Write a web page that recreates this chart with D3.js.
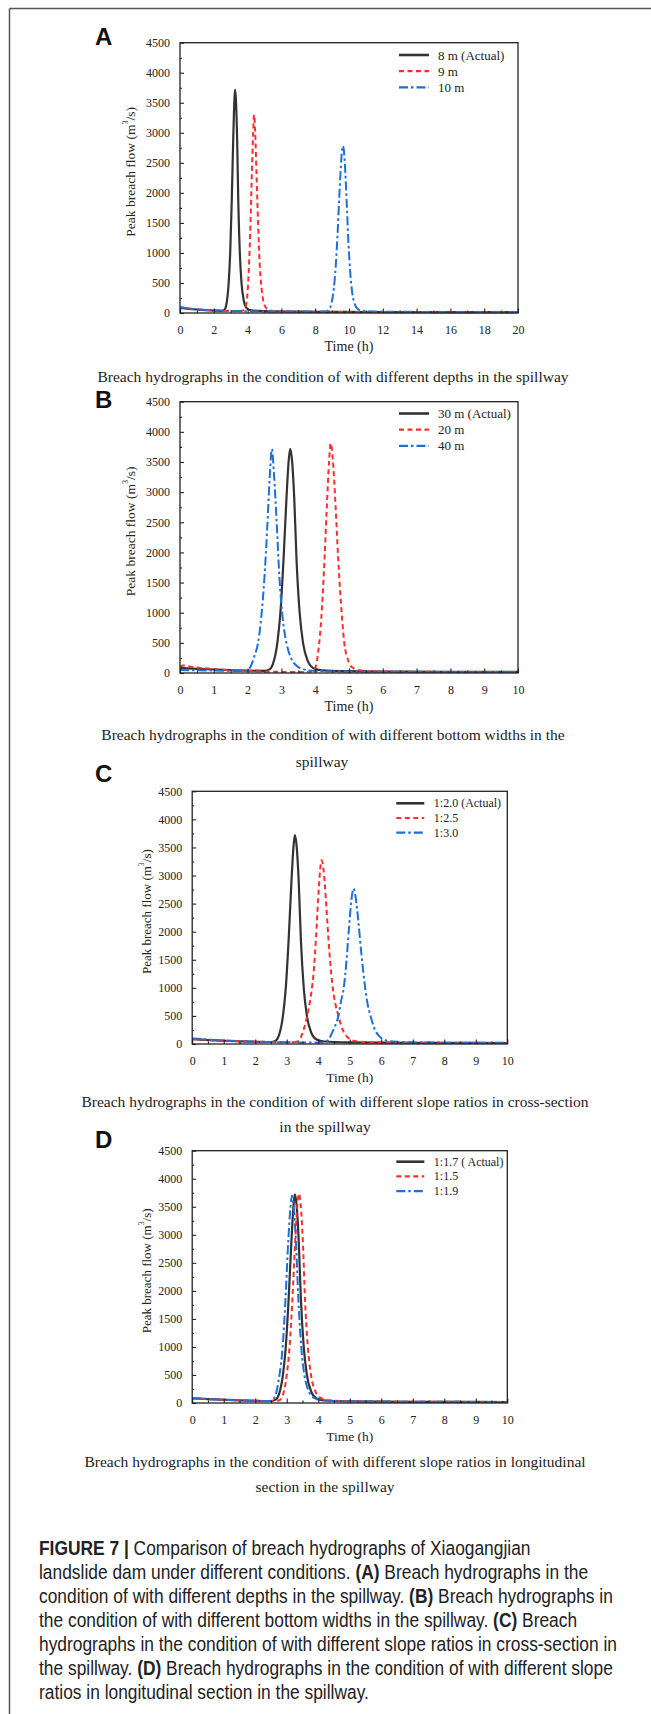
<!DOCTYPE html>
<html><head><meta charset="utf-8">
<script src="https://cdn.jsdelivr.net/npm/d3@7"></script>
<style>html,body{margin:0;padding:0;background:#fff;} svg{display:block;}</style>
</head><body>
<svg id="fig" width="651" height="1714"></svg>
<script>
// ---------- data ----------
const yTicks = [0,500,1000,1500,2000,2500,3000,3500,4000,4500];
const xTicksA = [0,2,4,6,8,10,12,14,16,18,20];
const xTicks10 = [0,1,2,3,4,5,6,7,8,9,10];

const legendA = ["8 m (Actual)", "9 m", "10 m"];
const legendB = ["30 m (Actual)", "20 m", "40 m"];
const legendC = ["1:2.0 (Actual)", "1:2.5", "1:3.0"];
const legendD = ["1:1.7 ( Actual)", "1:1.5", "1:1.9"];

const captionA = ["Breach hydrographs in the condition of with different depths in the spillway"];
const captionB = ["Breach hydrographs in the condition of with different bottom widths in the", "spillway"];
const captionC = ["Breach hydrographs in the condition of with different slope ratios in cross-section", "in the spillway"];
const captionD = ["Breach hydrographs in the condition of with different slope ratios in longitudinal", "section in the spillway"];

// actual condition hydrograph [time h, flow m3/s]
const actual = [[0,85],[0.5,70],[1,58],[1.5,48],[2,40],[2.5,36],[2.65,60],[2.75,150],[2.88,500],[2.97,1000],[3.06,1850],[3.15,2900],[3.22,3550],[3.26,3720],[3.31,3550],[3.38,2900],[3.45,1850],[3.54,1000],[3.64,500],[3.78,200],[3.95,80],[4.2,45],[5,30],[6,25],[8,20],[10,18],[12,16],[15,15],[20,14]];
// panel A
const depth9 = [[0,95],[0.5,75],[1,60],[1.5,50],[2,42],[3,32],[3.6,30],[3.8,60],[3.95,200],[4.05,600],[4.15,1300],[4.25,2300],[4.33,3000],[4.38,3300],[4.45,3000],[4.53,2300],[4.62,1500],[4.72,800],[4.85,350],[5.0,130],[5.2,60],[5.5,35],[6.5,25],[8,20],[10,18],[14,15],[20,13]];
const depth10 = [[0,95],[0.5,75],[1,60],[2,45],[3,36],[4,30],[5,27],[6,25],[7,24],[8,23],[8.6,25],[8.8,50],[8.95,150],[9.1,400],[9.22,800],[9.32,1300],[9.42,1900],[9.52,2450],[9.6,2740],[9.64,2780],[9.7,2700],[9.78,2350],[9.87,1800],[9.97,1150],[10.08,650],[10.2,320],[10.35,140],[10.55,60],[10.8,35],[11.5,25],[13,20],[16,17],[20,15]];
// panel B
const width20 = [[0,110],[0.1,125],[0.3,105],[0.6,85],[1,65],[1.5,48],[2,35],[2.5,25],[3,18],[3.5,15],[3.9,25],[4.0,80],[4.1,400],[4.18,900],[4.26,1700],[4.34,2700],[4.41,3500],[4.46,3810],[4.52,3550],[4.6,2800],[4.68,1900],[4.77,1100],[4.86,500],[4.97,220],[5.1,90],[5.3,45],[5.6,30],[6,25],[7,20],[8,18],[10,15]];
const width40 = [[0,50],[0.5,45],[1,40],[1.5,35],[1.9,32],[2.0,50],[2.1,120],[2.2,280],[2.31,500],[2.4,900],[2.5,1600],[2.58,2400],[2.65,3200],[2.72,3717],[2.78,3300],[2.86,2500],[2.94,1600],[3.03,950],[3.15,500],[3.3,230],[3.45,120],[3.65,60],[4,35],[5,25],[6,20],[8,17],[10,15]];
// panel C
const slope25 = [[0,95],[0.5,75],[1,60],[1.5,50],[2,42],[2.5,36],[3,30],[3.32,40],[3.45,120],[3.55,280],[3.65,500],[3.75,800],[3.85,1250],[3.93,1900],[4.0,2600],[4.06,3100],[4.11,3273],[4.17,3100],[4.24,2600],[4.32,1900],[4.44,1100],[4.55,700],[4.64,500],[4.78,250],[4.95,110],[5.15,55],[5.5,35],[6,28],[7,22],[8,20],[10,17]];
const slope30 = [[0,100],[0.5,80],[1,62],[1.5,50],[2,42],[2.5,36],[3,32],[3.5,28],[4,26],[4.2,30],[4.35,100],[4.5,280],[4.64,500],[4.72,750],[4.81,1000],[4.9,1500],[4.98,2100],[5.05,2550],[5.12,2769],[5.19,2600],[5.27,2200],[5.37,1600],[5.49,1000],[5.57,700],[5.66,500],[5.78,280],[5.95,130],[6.15,65],[6.5,38],[7,30],[8,24],[10,20]];
// panel D
const long15 = [[0,85],[0.5,70],[1,58],[1.5,48],[2,40],[2.5,35],[2.75,45],[2.87,130],[3.0,500],[3.09,1000],[3.18,1850],[3.27,2900],[3.34,3550],[3.39,3735],[3.44,3550],[3.51,2900],[3.58,1850],[3.67,1000],[3.77,500],[3.9,220],[4.05,100],[4.3,50],[5,32],[6,26],[8,21],[10,18]];
const long19 = [[0,90],[0.5,72],[1,58],[1.5,48],[2,40],[2.45,35],[2.55,60],[2.65,150],[2.77,500],[2.87,1000],[2.96,1850],[3.05,2900],[3.12,3500],[3.17,3700],[3.22,3500],[3.29,2900],[3.37,1850],[3.46,1000],[3.56,500],[3.7,210],[3.87,90],[4.1,50],[5,32],[6,26],[8,21],[10,18]];

const figCaption = [
  [["FIGURE 7 | ",true],["Comparison of breach hydrographs of Xiaogangjian",false]],
  [["landslide dam under different conditions. ",false],["(A)",true],[" Breach hydrographs in the",false]],
  [["condition of with different depths in the spillway. ",false],["(B)",true],[" Breach hydrographs in",false]],
  [["the condition of with different bottom widths in the spillway. ",false],["(C)",true],[" Breach",false]],
  [["hydrographs in the condition of with different slope ratios in cross-section in",false]],
  [["the spillway. ",false],["(D)",true],[" Breach hydrographs in the condition of with different slope",false]],
  [["ratios in longitudinal section in the spillway.",false]]
];

// ---------- styles ----------
const serif = "'Liberation Serif','Times New Roman',serif";
const sans = "'Liberation Sans',Arial,Helvetica,sans-serif";
const styles = [
  {color:"#333333", dash:null, width:2.2},
  {color:"#ff2d2d", dash:"5,3.5", width:2},
  {color:"#1f6fd8", dash:"9,3,2.5,3", width:2}
];

const svg = d3.select("#fig");
svg.append("rect").attr("width",651).attr("height",1714).attr("fill","#fff");
// outer frame
svg.append("line").attr("x1",9.5).attr("x2",651).attr("y1",8.5).attr("y2",8.5).attr("stroke","#555").attr("stroke-width",1.5);
svg.append("line").attr("x1",9.5).attr("x2",9.5).attr("y1",8.5).attr("y2",1714).attr("stroke","#555").attr("stroke-width",1.5);

function panel(cfg){
  const g = svg.append("g");
  const x = d3.scaleLinear().domain([0, cfg.xMax]).range([cfg.l, cfg.r]);
  const y = d3.scaleLinear().domain([0, 4500]).range([cfg.b, cfg.t]);
  // letter
  g.append("text").attr("x",95).attr("y",cfg.letterY).text(cfg.letter)
    .attr("font-family",sans).attr("font-weight","bold").attr("font-size",24).attr("fill","#111");
  // series
  const line = d3.line().x(d=>x(d[0])).y(d=>y(d[1])).curve(d3.curveMonotoneX);
  cfg.series.forEach((s,i)=>{
    const st = styles[i];
    g.append("path").datum(s.filter(d=>d[0]<=cfg.xMax)).attr("d",line)
      .attr("fill","none").attr("stroke",st.color).attr("stroke-width",st.width)
      .attr("stroke-dasharray",st.dash).attr("stroke-linejoin","round");
  });
  // axes with inward ticks
  const yAxis = d3.axisLeft(y).tickValues(yTicks).tickSize(-4).tickPadding(6 + 4).tickFormat(d3.format("d"));
  const ya = g.append("g").attr("transform",`translate(${cfg.l},0)`).call(yAxis);
  const minorY = d3.axisLeft(y).tickValues(yTicks.slice(0,-1).map(v=>v+250)).tickSize(-2).tickFormat("");
  const ym = g.append("g").attr("transform",`translate(${cfg.l},0)`).call(minorY);
  const xAxis = d3.axisBottom(x).tickValues(cfg.xTicks).tickSize(-4.5).tickPadding(8 + 4.5).tickFormat(d3.format("d"));
  const xa = g.append("g").attr("transform",`translate(0,${cfg.b})`).call(xAxis);
  const step = cfg.xTicks[1]-cfg.xTicks[0];
  const minorX = d3.axisBottom(x).tickValues(cfg.xTicks.slice(0,-1).map(v=>v+step/2)).tickSize(-2.5).tickFormat("");
  const xm = g.append("g").attr("transform",`translate(0,${cfg.b})`).call(minorX);
  [ya,ym,xa,xm].forEach(a=>{
    a.select(".domain").remove();
    a.selectAll("line").attr("stroke","#222").attr("stroke-width",1.1);
    a.selectAll("text").attr("font-family",serif).attr("font-size",cfg.tickSize).attr("fill","#222");
  });
  // frame
  g.append("rect").attr("x",cfg.l).attr("y",cfg.t).attr("width",cfg.r-cfg.l).attr("height",cfg.b-cfg.t)
    .attr("fill","none").attr("stroke","#222").attr("stroke-width",1.3);
  // axis titles
  g.append("text").attr("x",(cfg.l+cfg.r)/2).attr("y",cfg.b+33).attr("text-anchor","middle")
    .attr("dominant-baseline","central").attr("font-family",serif).attr("font-size",cfg.titleSize).attr("fill","#222").text("Time (h)");
  const yt = g.append("text").attr("transform",`translate(${cfg.l-cfg.yTitleOff},${(cfg.t+cfg.b)/2-6}) rotate(-90)`)
    .attr("text-anchor","middle").attr("dominant-baseline","central")
    .attr("font-family",serif).attr("font-size",cfg.titleSize-0.5).attr("fill","#222");
  yt.append("tspan").text("Peak breach flow (m");
  yt.append("tspan").text("3").attr("font-size",(cfg.titleSize-0.5)*0.6).attr("dy",-5);
  yt.append("tspan").text("/s)").attr("dy",5);
  // legend
  cfg.legend.forEach((lab,i)=>{
    const ly = cfg.t + cfg.legTop + i*cfg.legStep;
    const st = styles[i];
    g.append("line").attr("x1",cfg.r-cfg.legX).attr("x2",cfg.r-cfg.legX+cfg.legLen).attr("y1",ly).attr("y2",ly)
      .attr("stroke",st.color).attr("stroke-width",i===0?2.6:2.2).attr("stroke-dasharray",st.dash);
    g.append("text").attr("x",cfg.r-cfg.legX+cfg.legText).attr("y",ly).attr("dominant-baseline","central")
      .attr("font-family",serif).attr("font-size",cfg.legSize).attr("fill","#222").text(lab);
  });
  // caption
  cfg.caption.forEach((c,i)=>{
    g.append("text").attr("x",cfg.capX[i]).attr("y",cfg.capY[i]).attr("text-anchor","middle")
      .attr("dominant-baseline","central").attr("font-family",serif).attr("font-size",15.5).attr("fill","#222").text(c);
  });
}

panel({letter:"A",letterY:45,l:180,r:518,t:42.7,b:313,xMax:20,xTicks:xTicksA,tickSize:12,
  series:[actual,depth9,depth10],legend:legendA,legTop:12.3,legStep:16.2,legX:119,legLen:30,legText:39,legSize:13,
  titleSize:14,yTitleOff:50,caption:captionA,capX:[333],capY:[376]});
panel({letter:"B",letterY:408.3,l:180,r:518,t:401.7,b:673,xMax:10,xTicks:xTicks10,tickSize:12,
  series:[actual,width20,width40],legend:legendB,legTop:11.8,legStep:16.2,legX:119,legLen:30,legText:39,legSize:13,
  titleSize:14,yTitleOff:50,caption:captionB,capX:[333,322],capY:[734,761.7]});
panel({letter:"C",letterY:781.7,l:192.2,r:507.3,t:791.3,b:1044,xMax:10,xTicks:xTicks10,tickSize:12,
  series:[actual,slope25,slope30],legend:legendC,legTop:12,legStep:14.7,legX:111,legLen:28,legText:37.5,legSize:12,
  titleSize:13.5,yTitleOff:46,caption:captionC,capX:[335,325],capY:[1101.7,1126]});
panel({letter:"D",letterY:1148.3,l:192.2,r:507.3,t:1150.7,b:1403,xMax:10,xTicks:xTicks10,tickSize:12,
  series:[actual,long15,long19],legend:legendD,legTop:11,legStep:14.7,legX:111,legLen:28,legText:37.5,legSize:12,
  titleSize:13.5,yTitleOff:46,caption:captionD,capX:[335,325],capY:[1461.7,1486]});

// figure caption (slightly condensed sans)
figCaption.forEach((line,i)=>{
  const t = svg.append("text").attr("transform",`translate(39,${1548+i*24}) scale(0.9,1)`)
    .attr("dominant-baseline","central")
    .attr("font-family",sans).attr("font-size",19.3).attr("fill","#222");
  line.forEach(([s,b])=>{ t.append("tspan").text(s).attr("font-weight",b?"bold":"normal"); });
});
</script>
</body></html>
